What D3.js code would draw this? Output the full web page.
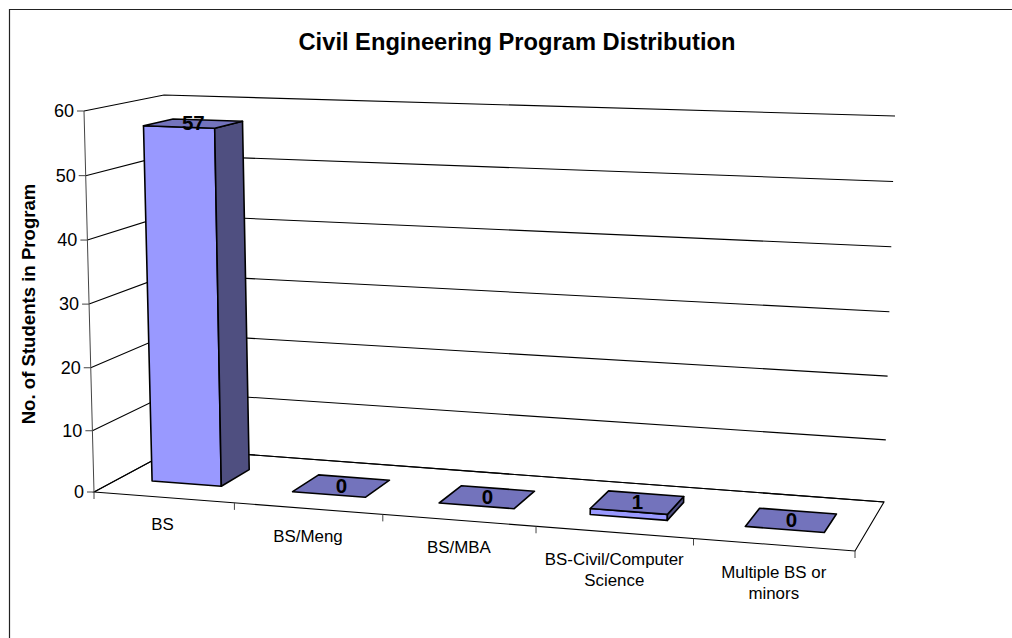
<!DOCTYPE html>
<html><head><meta charset="utf-8">
<script src="https://cdn.jsdelivr.net/npm/d3@7"></script>
<style>html,body{margin:0;padding:0;background:#fff}svg{display:block}text{font-family:"Liberation Sans",Arial,sans-serif;fill:#000}</style>
</head><body><div id="c"></div>
<script>
const categories = ["BS","BS/Meng","BS/MBA","BS-Civil/Computer Science","Multiple BS or minors"];
const categoryLines = [["BS"],["BS/Meng"],["BS/MBA"],["BS-Civil/Computer","Science"],["Multiple BS or","minors"]];
const values = [57,0,0,1,0];
const yTicks = [0,10,20,30,40,50,60];
const titleText = "Civil Engineering Program Distribution";
const yTitle = "No. of Students in Program";

const W=1012,H=638;
const svg=d3.select("#c").append("svg").attr("width",W).attr("height",H);

// projection of the 3D box: floor corners and the pixel vector of full height at each
const FL=[94,492],FR=[855,551],BR=[884,502],BL=[174,449];
const hFL=[-10,-381],hFR=[11,-410],hBR=[11,-386],hBL=[-10,-354];
function homography(p00,p10,p11,p01){
  const dx1=p10[0]-p11[0],dx2=p01[0]-p11[0],sx=p00[0]-p10[0]+p11[0]-p01[0];
  const dy1=p10[1]-p11[1],dy2=p01[1]-p11[1],sy=p00[1]-p10[1]+p11[1]-p01[1];
  const den=dx1*dy2-dx2*dy1;
  const g=(sx*dy2-dx2*sy)/den,h=(dx1*sy-sx*dy1)/den;
  const a=p10[0]-p00[0]+g*p10[0],b=p01[0]-p00[0]+h*p01[0],c=p00[0];
  const d=p10[1]-p00[1]+g*p10[1],e=p01[1]-p00[1]+h*p01[1],f=p00[1];
  return (u,v)=>{const w=g*u+h*v+1;return [(a*u+b*v+c)/w,(d*u+e*v+f)/w];};
}
const floorRaw=homography(FL,FR,BR,BL);
// perspective foreshortening along the value and category directions
const yS=d3.scalePow().exponent(1.02).domain([0,60]).range([0,1]);
const uWarp=d3.scalePow().exponent(1.028).domain([0,1]).range([0,1]);
const floorAt=(u,d)=>floorRaw(uWarp(u),d);
const xS=d3.scaleBand().domain(categories).range([0,1]).paddingInner(0.5).paddingOuter(0.25);
const stepU=xS.step();
const depth0=0.30,depth1=0.68;
function P(u,d,val){
  const p=floorAt(u,d),t=yS(val),w=uWarp(u);
  const lerp=(i)=>(1-w)*(1-d)*hFL[i]+w*(1-d)*hFR[i]+w*d*hBR[i]+(1-w)*d*hBL[i];
  return [p[0]+t*lerp(0),p[1]+t*lerp(1)];
}
const linePath=(pts)=>"M"+pts.map(p=>p[0].toFixed(1)+","+p[1].toFixed(1)).join("L");
const poly=(pts)=>linePath(pts)+"Z";

// frame
svg.append("path").attr("d",`M${W},9.5H9.5V${H}`).attr("fill","none").attr("stroke","#222").attr("stroke-width",1.2);

// title
svg.append("text").attr("x",517).attr("y",50).attr("text-anchor","middle").attr("font-size",23.7).attr("font-weight","bold").text(titleText);

// y title
svg.append("text").attr("transform","translate(35,304) rotate(-90)").attr("text-anchor","middle").attr("font-size",18.6).attr("font-weight","bold").text(yTitle);

// grid
const grid=svg.append("g").attr("fill","none").attr("stroke","#000").attr("stroke-width",1.1);
yTicks.forEach(v=>{
  grid.append("path").attr("d",linePath([P(0,0,v),P(0,1,v),P(1,1,v)]));
});
grid.append("path").attr("d",poly([P(0,0,0),P(1,0,0),P(1,1,0),P(0,1,0)]));
svg.append("path").attr("d",linePath([P(0,0,0),P(0,0,60)])).attr("stroke","#444").attr("fill","none");

// y ticks
const yg=svg.append("g");
yTicks.forEach(v=>{
  const p=P(0,0,v);
  yg.append("line").attr("x1",p[0]-7).attr("x2",p[0]).attr("y1",p[1]).attr("y2",p[1]).attr("stroke","#444");
  yg.append("text").attr("x",p[0]-10).attr("y",p[1]+6).attr("text-anchor","end").attr("font-size",18).text(v);
});

// x ticks & labels
d3.range(categories.length+1).forEach(i=>{
  const p=floorAt(i*stepU,0);
  svg.append("line").attr("x1",p[0]).attr("x2",p[0]).attr("y1",p[1]).attr("y2",p[1]+7).attr("stroke","#444");
});
categories.forEach((c,i)=>{
  const p=floorAt((i+0.5)*stepU,0);
  const t=svg.append("text").attr("text-anchor","middle").attr("font-size",16.9);
  categoryLines[i].forEach((s,k)=>{
    t.append("tspan").attr("x",p[0]).attr("y",p[1]+33+k*21).text(s);
  });
});

// bars
const frontC="#9999FF",sideC="#4F4F80",topC="#7373BC";
const bars=svg.append("g").attr("stroke","#000").attr("stroke-width",1.6).attr("stroke-linejoin","round");
categories.forEach((c,i)=>{
  const u0=xS(c),u1=u0+xS.bandwidth(),v=values[i];
  if(v>0){
    bars.append("path").attr("d",poly([P(u0,depth0,0),P(u1,depth0,0),P(u1,depth0,v),P(u0,depth0,v)])).attr("fill",frontC);
    bars.append("path").attr("d",poly([P(u1,depth0,0),P(u1,depth1,0),P(u1,depth1,v),P(u1,depth0,v)])).attr("fill",sideC);
  }
  bars.append("path").attr("d",poly([P(u0,depth0,v),P(u1,depth0,v),P(u1,depth1,v),P(u0,depth1,v)])).attr("fill",topC);
});
// data labels
categories.forEach((c,i)=>{
  const m=P(xS(c)+xS.bandwidth()/2,(depth0+depth1)/2,values[i]);
  svg.append("text").attr("x",m[0]).attr("y",m[1]+7).attr("text-anchor","middle").attr("font-size",20.5).attr("font-weight","bold").text(values[i]);
});
</script></body></html>
